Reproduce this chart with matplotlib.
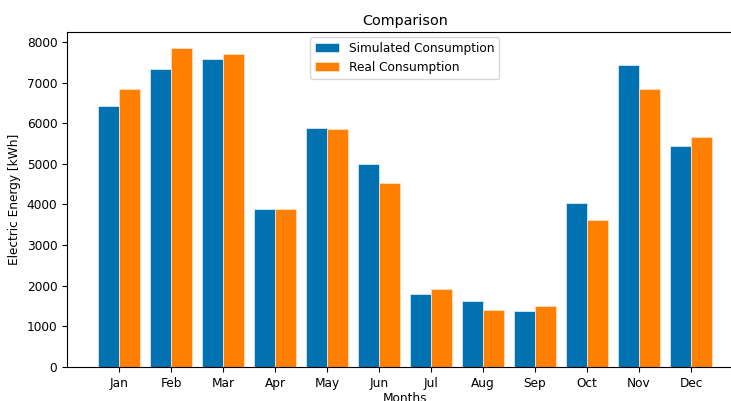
import matplotlib
matplotlib.use("Agg")
import matplotlib.pyplot as plt
import numpy as np

months = ["Jan", "Feb", "Mar", "Apr", "May", "Jun", "Jul", "Aug", "Sep", "Oct", "Nov", "Dec"]
simulated = [6420, 7346, 7592, 3897, 5887, 4988, 1794, 1629, 1376, 4029, 7428, 5437]
real = [6830, 7853, 7705, 3890, 5862, 4521, 1924, 1415, 1499, 3612, 6845, 5651]

plt.rcParams["font.size"] = 8.7

fig = plt.figure(figsize=(7.31, 4.01), dpi=100)
ax = fig.add_axes([67/731, 1 - 367/401, (743 - 67)/731, (367 - 32)/401])

x = np.arange(len(months))
w = 0.41
ax.bar(x - w/2, simulated, w, color="#0072B2", edgecolor="#d8e8f4", linewidth=0.6, label="Simulated Consumption")
ax.bar(x + w/2, real, w, color="#FF7F00", edgecolor="#ffe0c0", linewidth=0.6, label="Real Consumption")

ax.set_xticks(x)
ax.set_xticklabels(months)
ax.set_xlim(-1, 12)
ax.set_ylim(0, 8245)
ax.set_yticks(range(0, 8001, 1000))
ax.set_title("Comparison", fontsize=10.4, pad=5)
ax.set_ylabel("Electric Energy [kWh]")
ax.set_xlabel("Months", labelpad=2)
ax.legend(loc="upper center", borderaxespad=0.4)

fig.savefig("out.png", dpi=100)
